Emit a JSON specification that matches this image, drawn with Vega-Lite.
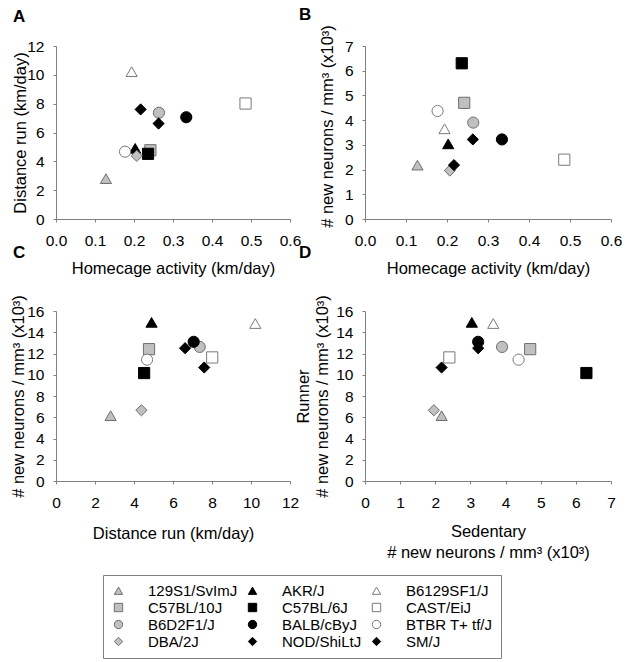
{
  "$schema": "https://vega.github.io/schema/vega-lite/v6.json",
  "padding": {"left": 10, "top": 5, "right": 0, "bottom": 0},
  "background": "white",
  "datasets": {
    "strains": [
      {"strain": "129S1/SvImJ", "H": 0.128, "D": 2.8, "S": 2.18, "R": 6.15},
      {"strain": "AKR/J", "H": 0.203, "D": 4.9, "S": 3.04, "R": 14.93},
      {"strain": "B6129SF1/J", "H": 0.194, "D": 10.22, "S": 3.65, "R": 14.82},
      {"strain": "C57BL/10J", "H": 0.242, "D": 4.77, "S": 4.7, "R": 12.41},
      {"strain": "C57BL/6J", "H": 0.236, "D": 4.52, "S": 6.3, "R": 10.16},
      {"strain": "CAST/EiJ", "H": 0.486, "D": 8.01, "S": 2.4, "R": 11.63},
      {"strain": "B6D2F1/J", "H": 0.264, "D": 7.37, "S": 3.9, "R": 12.62},
      {"strain": "BALB/cByJ", "H": 0.334, "D": 7.06, "S": 3.22, "R": 13.1},
      {"strain": "BTBR T+ tf/J", "H": 0.177, "D": 4.67, "S": 4.37, "R": 11.42},
      {"strain": "DBA/2J", "H": 0.207, "D": 4.38, "S": 1.96, "R": 6.66},
      {"strain": "NOD/ShiLtJ", "H": 0.217, "D": 7.6, "S": 2.18, "R": 10.68},
      {"strain": "SM/J", "H": 0.263, "D": 6.62, "S": 3.22, "R": 12.5}
    ]
  },
  "data": {"name": "strains"},
  "config": {
    "font": "Liberation Sans",
    "view": {"stroke": null},
    "axis": {
      "grid": false,
      "domainColor": "#808080",
      "tickColor": "#808080",
      "tickSize": 3,
      "labelFontSize": 15.5,
      "labelColor": "#000000",
      "titleFontSize": 16.5,
      "titleFontWeight": "normal",
      "titleColor": "#000000",
      "labelFlush": false,
      "labelOverlap": false
    },
    "axisX": {"labelPadding": 11, "titlePadding": 12},
    "axisY": {"labelPadding": 9, "titlePadding": 0},
    "title": {"fontSize": 17, "fontWeight": "bold", "anchor": "start", "frame": "group", "offset": 13, "color": "#000000"},
    "legend": {
      "orient": "none",
      "legendX": 47,
      "legendY": 529,
      "columns": 3,
      "direction": "horizontal",
      "gridAlign": "each",
      "columnPadding": 7,
      "rowPadding": 1,
      "symbolSize": 70,
      "symbolStrokeWidth": 1,
      "labelFontSize": 15,
      "labelColor": "#000000",
      "labelOffset": 22,
      "labelLimit": 200,
      "strokeColor": "#808080",
      "padding": 8
    }
  },
  "columns": 2,
  "bounds": "flush",
  "spacing": {"row": 92, "column": 75},
  "concat": [
    {
      "width": 234, "height": 173,
      "title": {"text": "A", "dx": -43},
      "mark": {"type": "point", "filled": true, "opacity": 1, "size": 125, "strokeWidth": 1},
      "encoding": {
        "x": {"field": "H", "type": "quantitative", "scale": {"domain": [0, 0.6], "nice": false}, "axis": {"title": "Homecage activity (km/day)", "values": [0, 0.1, 0.2, 0.3, 0.4, 0.5, 0.6], "format": ".1f"}},
        "y": {"field": "D", "type": "quantitative", "scale": {"domain": [0, 12], "nice": false}, "axis": {"title": "Distance run (km/day)", "values": [0, 2, 4, 6, 8, 10, 12], "titlePadding": -2}},
        "shape": {"field": "strain", "type": "nominal", "title": null, "scale": {"domain": ["129S1/SvImJ","AKR/J","B6129SF1/J","C57BL/10J","C57BL/6J","CAST/EiJ","B6D2F1/J","BALB/cByJ","BTBR T+ tf/J","DBA/2J","NOD/ShiLtJ","SM/J"], "range": ["triangle-up","triangle-up","triangle-up","square","square","square","circle","circle","circle","diamond","diamond","diamond"]}},
        "fill": {"field": "strain", "type": "nominal", "title": null, "scale": {"domain": ["129S1/SvImJ","AKR/J","B6129SF1/J","C57BL/10J","C57BL/6J","CAST/EiJ","B6D2F1/J","BALB/cByJ","BTBR T+ tf/J","DBA/2J","NOD/ShiLtJ","SM/J"], "range": ["#c0c0c0","#000000","#ffffff","#c0c0c0","#000000","#ffffff","#c0c0c0","#000000","#ffffff","#c0c0c0","#000000","#000000"]}},
        "stroke": {"field": "strain", "type": "nominal", "title": null, "scale": {"domain": ["129S1/SvImJ","AKR/J","B6129SF1/J","C57BL/10J","C57BL/6J","CAST/EiJ","B6D2F1/J","BALB/cByJ","BTBR T+ tf/J","DBA/2J","NOD/ShiLtJ","SM/J"], "range": ["#6e6e6e","#000000","#7a7a7a","#6e6e6e","#000000","#7a7a7a","#6e6e6e","#000000","#7a7a7a","#6e6e6e","#000000","#000000"]}}
      }
    },
    {
      "width": 246, "height": 173,
      "title": {"text": "B", "dx": -66, "offset": 1},
      "mark": {"type": "point", "filled": true, "opacity": 1, "size": 125, "strokeWidth": 1},
      "encoding": {
        "x": {"field": "H", "type": "quantitative", "scale": {"domain": [0, 0.6], "nice": false}, "axis": {"title": "Homecage activity (km/day)", "values": [0, 0.1, 0.2, 0.3, 0.4, 0.5, 0.6], "format": ".1f"}},
        "y": {"field": "S", "type": "quantitative", "scale": {"domain": [0, 7], "nice": false}, "axis": {"title": "# new neurons / mm³ (x10³)", "values": [0, 1, 2, 3, 4, 5, 6, 7], "titlePadding": 9, "titleY": 80}},
        "shape": {"field": "strain", "type": "nominal", "title": null},
        "fill": {"field": "strain", "type": "nominal", "title": null},
        "stroke": {"field": "strain", "type": "nominal", "title": null}
      }
    },
    {
      "width": 234, "height": 170,
      "title": {"text": "C", "dx": -43, "offset": 33},
      "mark": {"type": "point", "filled": true, "opacity": 1, "size": 125, "strokeWidth": 1},
      "encoding": {
        "x": {"field": "D", "type": "quantitative", "scale": {"domain": [0, 12], "nice": false}, "axis": {"title": "Distance run (km/day)", "values": [0, 2, 4, 6, 8, 10, 12], "titlePadding": 15}},
        "y": {"field": "R", "type": "quantitative", "scale": {"domain": [0, 16], "nice": false}, "axis": {"title": "# new neurons / mm³ (x10³)", "values": [0, 2, 4, 6, 8, 10, 12, 14, 16]}},
        "shape": {"field": "strain", "type": "nominal", "title": null},
        "fill": {"field": "strain", "type": "nominal", "title": null},
        "stroke": {"field": "strain", "type": "nominal", "title": null}
      }
    },
    {
      "width": 246, "height": 170,
      "title": {"text": "D", "dx": -66, "offset": 33},
      "mark": {"type": "point", "filled": true, "opacity": 1, "size": 125, "strokeWidth": 1},
      "encoding": {
        "x": {"field": "S", "type": "quantitative", "scale": {"domain": [0, 7], "nice": false}, "axis": {"title": ["Sedentary", "# new neurons / mm³ (x10³)"], "titleLineHeight": 21, "values": [0, 1, 2, 3, 4, 5, 6, 7], "titlePadding": 13}},
        "y": {"field": "R", "type": "quantitative", "scale": {"domain": [0, 16], "nice": false}, "axis": {"title": ["Runner", "# new neurons / mm³ (x10³)"], "titleLineHeight": 19, "values": [0, 2, 4, 6, 8, 10, 12, 14, 16], "titlePadding": 5}},
        "shape": {"field": "strain", "type": "nominal", "title": null},
        "fill": {"field": "strain", "type": "nominal", "title": null},
        "stroke": {"field": "strain", "type": "nominal", "title": null}
      }
    }
  ]
}
